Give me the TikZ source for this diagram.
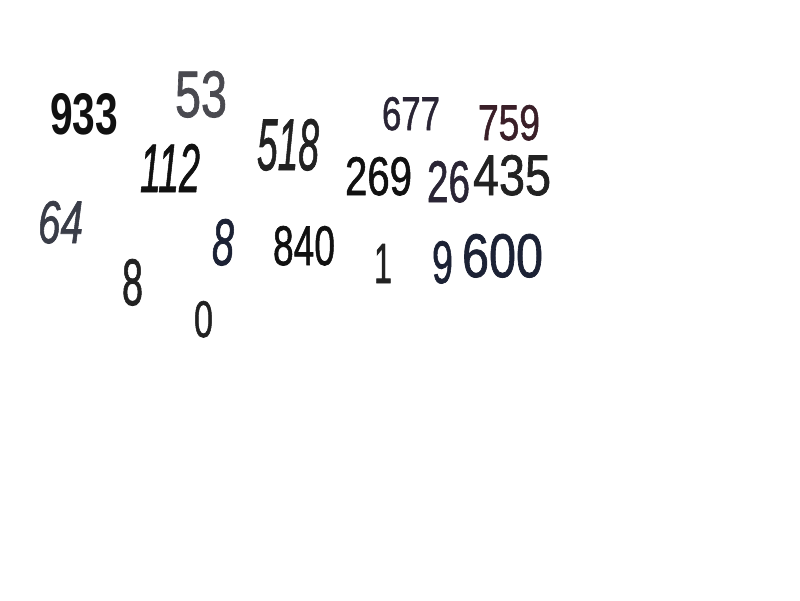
\documentclass[tikz,border=0pt]{standalone}
\usepackage{fontspec}
\usepackage{graphicx}
\setmainfont{Liberation Sans}
\newfontfamily\medfont[FakeBold=1.3]{Liberation Sans}
\newfontfamily\meditfont[FakeBold=1.3,UprightFont=*,BoldFont=*]{Liberation Sans Italic}
\definecolor{cA}{HTML}{111111}
\definecolor{cGray}{HTML}{4A4A50}
\definecolor{cDark}{HTML}{222222}
\definecolor{cSlate}{HTML}{3A3D48}
\definecolor{cNavy}{HTML}{1C2235}
\definecolor{cPurp}{HTML}{2A2535}
\definecolor{cMaroon}{HTML}{3A1F28}
\tikzset{numtxt/.style={anchor=north west, inner sep=0pt, outer sep=0pt}}
% \placenum{name}{x}{y}{width}{height}{color}{font}{text}
\newcommand{\placenum}[8]{%
  \node[numtxt, text=#6] (#1) at (#2,#3) {\resizebox{#4pt}{#5pt}{#7#8}};}
\begin{document}
\begin{tikzpicture}[x=1pt,y=-1pt]
\useasboundingbox[fill=white] (0,0) rectangle (800,600);
\placenum{n933}{50}{93}{68}{41}{cA}{\bfseries}{933}
\placenum{n53}{175}{71}{52}{46}{cGray}{\medfont}{53}
\placenum{n112}{140}{144}{60}{48}{cA}{\meditfont}{112}
\placenum{n518}{257}{119}{62}{51}{cDark}{\meditfont}{518}
\placenum{n64}{38}{201}{45}{42}{cSlate}{\meditfont}{64}
\placenum{n8a}{122}{259}{21}{46}{cDark}{\medfont}{8}
\placenum{n8b}{212}{219}{22}{46}{cNavy}{\meditfont}{8}
\placenum{n0}{194}{301}{19}{36}{cDark}{\medfont}{0}
\placenum{n840}{273}{226}{62}{39}{cA}{\medfont}{840}
\placenum{n677}{382}{97}{58}{33}{cPurp}{\medfont}{677}
\placenum{n759}{478}{105}{62}{35}{cMaroon}{\medfont}{759}
\placenum{n269}{345}{157}{67}{38}{cA}{\medfont}{269}
\placenum{n26}{427}{161}{43}{41}{cPurp}{\medfont}{26}
\placenum{n435}{473}{155}{78}{40}{cDark}{\medfont}{435}
\placenum{n1}{374}{244}{18}{39}{cDark}{\medfont}{1}
\placenum{n9}{432}{241}{21}{42}{cNavy}{\medfont}{9}
\placenum{n600}{462}{234}{81}{43}{cNavy}{\medfont}{600}
\end{tikzpicture}
\end{document}
